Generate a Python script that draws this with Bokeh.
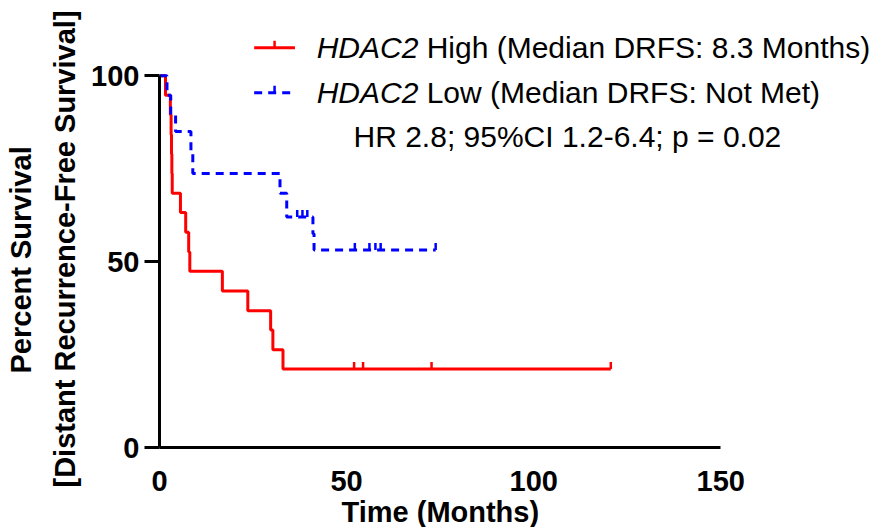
from bokeh.plotting import figure
from bokeh.models import Range1d, FixedTicker, Title
from bokeh.core.properties import value
from bokeh.embed import file_html
from bokeh.resources import INLINE

# ---- data ----
high_t = [0, 1.6, 2.9, 3.1, 3.2, 3.3, 3.4, 5.6, 7.0, 7.8, 8.1, 16.8, 23.6, 29.7, 30.3, 33.0, 120.6]
high_s = [100, 94.7, 89.5, 84.2, 78.9, 73.7, 68.4, 63.2, 57.9, 52.6, 47.4, 42.1, 36.8, 31.6, 26.3, 21.1, 21.1]
high_cens_t = [52.0, 54.4, 72.7, 120.6]
high_cens_s = [21.1, 21.1, 21.1, 21.1]

low_t = [0, 2.0, 3.0, 4.3, 8.4, 8.9, 32.2, 34.0, 41.0, 41.3, 73.8]
low_s = [100, 94.7, 89.5, 85.0, 79.5, 73.7, 68.4, 62.0, 57.5, 53.1, 53.1]
low_cens_t = [36.8, 38.2, 39.5, 52.2, 56.1, 57.7, 59.1, 73.8]
low_cens_s = [62.0, 62.0, 62.0, 53.1, 53.1, 53.1, 53.1, 53.1]

x_ticks = [0, 50, 100, 150]
y_ticks = [0, 50, 100]
gene = "HDAC2"
legend_rest = ["High (Median DRFS: 8.3 Months)", "Low (Median DRFS: Not Met)"]
stats_text = "HR 2.8; 95%CI 1.2-6.4; p = 0.02"
x_title = "Time (Months)"
y_title = ["Percent Survival", "[Distant Recurrence-Free Survival]"]

RED = "#ff0000"
BLUE = "#0000ff"
FONT = "Liberation Sans"
FRAME_W, FRAME_H = 711, 431
X_MAX, Y_MAX = 190, 115.9
PX_Y = FRAME_H / Y_MAX  # pixels per y unit
PX_X = FRAME_W / X_MAX
TICK = 7 / PX_Y

p = figure(frame_width=FRAME_W, frame_height=FRAME_H,
           x_range=Range1d(0, X_MAX), y_range=Range1d(0, Y_MAX),
           output_backend="svg", toolbar_location=None,
           min_border_left=159, min_border_right=4, min_border_top=16, min_border_bottom=0)
p.outline_line_color = None
p.xgrid.visible = False
p.ygrid.visible = False
p.background_fill_color = "white"
p.border_fill_color = "white"

for ax in (p.xaxis[0], p.yaxis[0]):
    ax.axis_line_width = 3
    ax.axis_line_color = "black"
    ax.major_tick_line_width = 3
    ax.major_tick_in = 0
    ax.minor_tick_line_color = None
    ax.major_label_text_font = FONT
    ax.major_label_text_font_style = "bold"
    ax.major_label_text_font_size = "29px"
    ax.major_label_text_color = "black"

p.xaxis.bounds = (0, 150)
p.xaxis.ticker = FixedTicker(ticks=x_ticks)
p.xaxis.major_tick_out = 0
p.xaxis.major_label_standoff = 23

p.yaxis.bounds = (0, 100)
p.yaxis.ticker = FixedTicker(ticks=y_ticks)
p.yaxis.major_tick_out = 15
p.yaxis.major_label_standoff = 5

# axis titles as side titles (align="left" + offset places them where the reference has them)
TITLE_FONT = dict(text_font=FONT, text_font_style="bold", text_font_size="29px", text_color="black")
p.add_layout(Title(text=x_title, align="left", offset=182, standoff=0, **TITLE_FONT), "below")
p.add_layout(Title(text=y_title[1], align="left", offset=-40, standoff=16, **TITLE_FONT), "left")
p.add_layout(Title(text=y_title[0], align="left", offset=74, standoff=4, **TITLE_FONT), "left")

# curves
p.step(high_t, high_s, mode="after", line_color=RED, line_width=3)
p.segment(x0=high_cens_t, y0=high_cens_s, x1=high_cens_t,
          y1=[s + TICK for s in high_cens_s], line_color=RED, line_width=2.5)
p.step(low_t, low_s, mode="after", line_color=BLUE, line_width=3, line_dash="8 6")
p.segment(x0=low_cens_t, y0=low_cens_s, x1=low_cens_t,
          y1=[s + TICK for s in low_cens_s], line_color=BLUE, line_width=2.5)

# legend (manual, for the italic gene name)
leg_y = [107.5, 95.4]
leg_x0, leg_x1 = 25.3, 36.2
leg_mid = (leg_x0 + leg_x1) / 2
p.segment(x0=[leg_x0], y0=[leg_y[0]], x1=[leg_x1], y1=[leg_y[0]], line_color=RED, line_width=3)
p.segment(x0=[leg_mid], y0=[leg_y[0]], x1=[leg_mid], y1=[leg_y[0] + TICK], line_color=RED, line_width=2.5)
p.line([leg_x0, leg_x1], [leg_y[1], leg_y[1]], line_color=BLUE, line_width=3, line_dash="8 6")
p.segment(x0=[leg_mid], y0=[leg_y[1]], x1=[leg_mid], y1=[leg_y[1] + TICK], line_color=BLUE, line_width=2.5)

text_x = 42.0
p.text(x=[text_x, text_x], y=leg_y, text=[gene, gene], text_font=value(FONT),
       text_font_style="italic", text_font_size="30px", text_baseline="middle",
       text_align="left", text_color="black")
p.text(x=[text_x, text_x], y=leg_y, text=legend_rest, text_font=value(FONT),
       text_font_size="30px", text_baseline="middle", text_align="left",
       text_color="black", x_offset=110)
p.text(x=[109.0], y=[83.6], text=[stats_text], text_font=value(FONT),
       text_font_size="30px", text_baseline="middle", text_align="center", text_color="black")

open("out.html", "w").write(file_html(p, INLINE))
